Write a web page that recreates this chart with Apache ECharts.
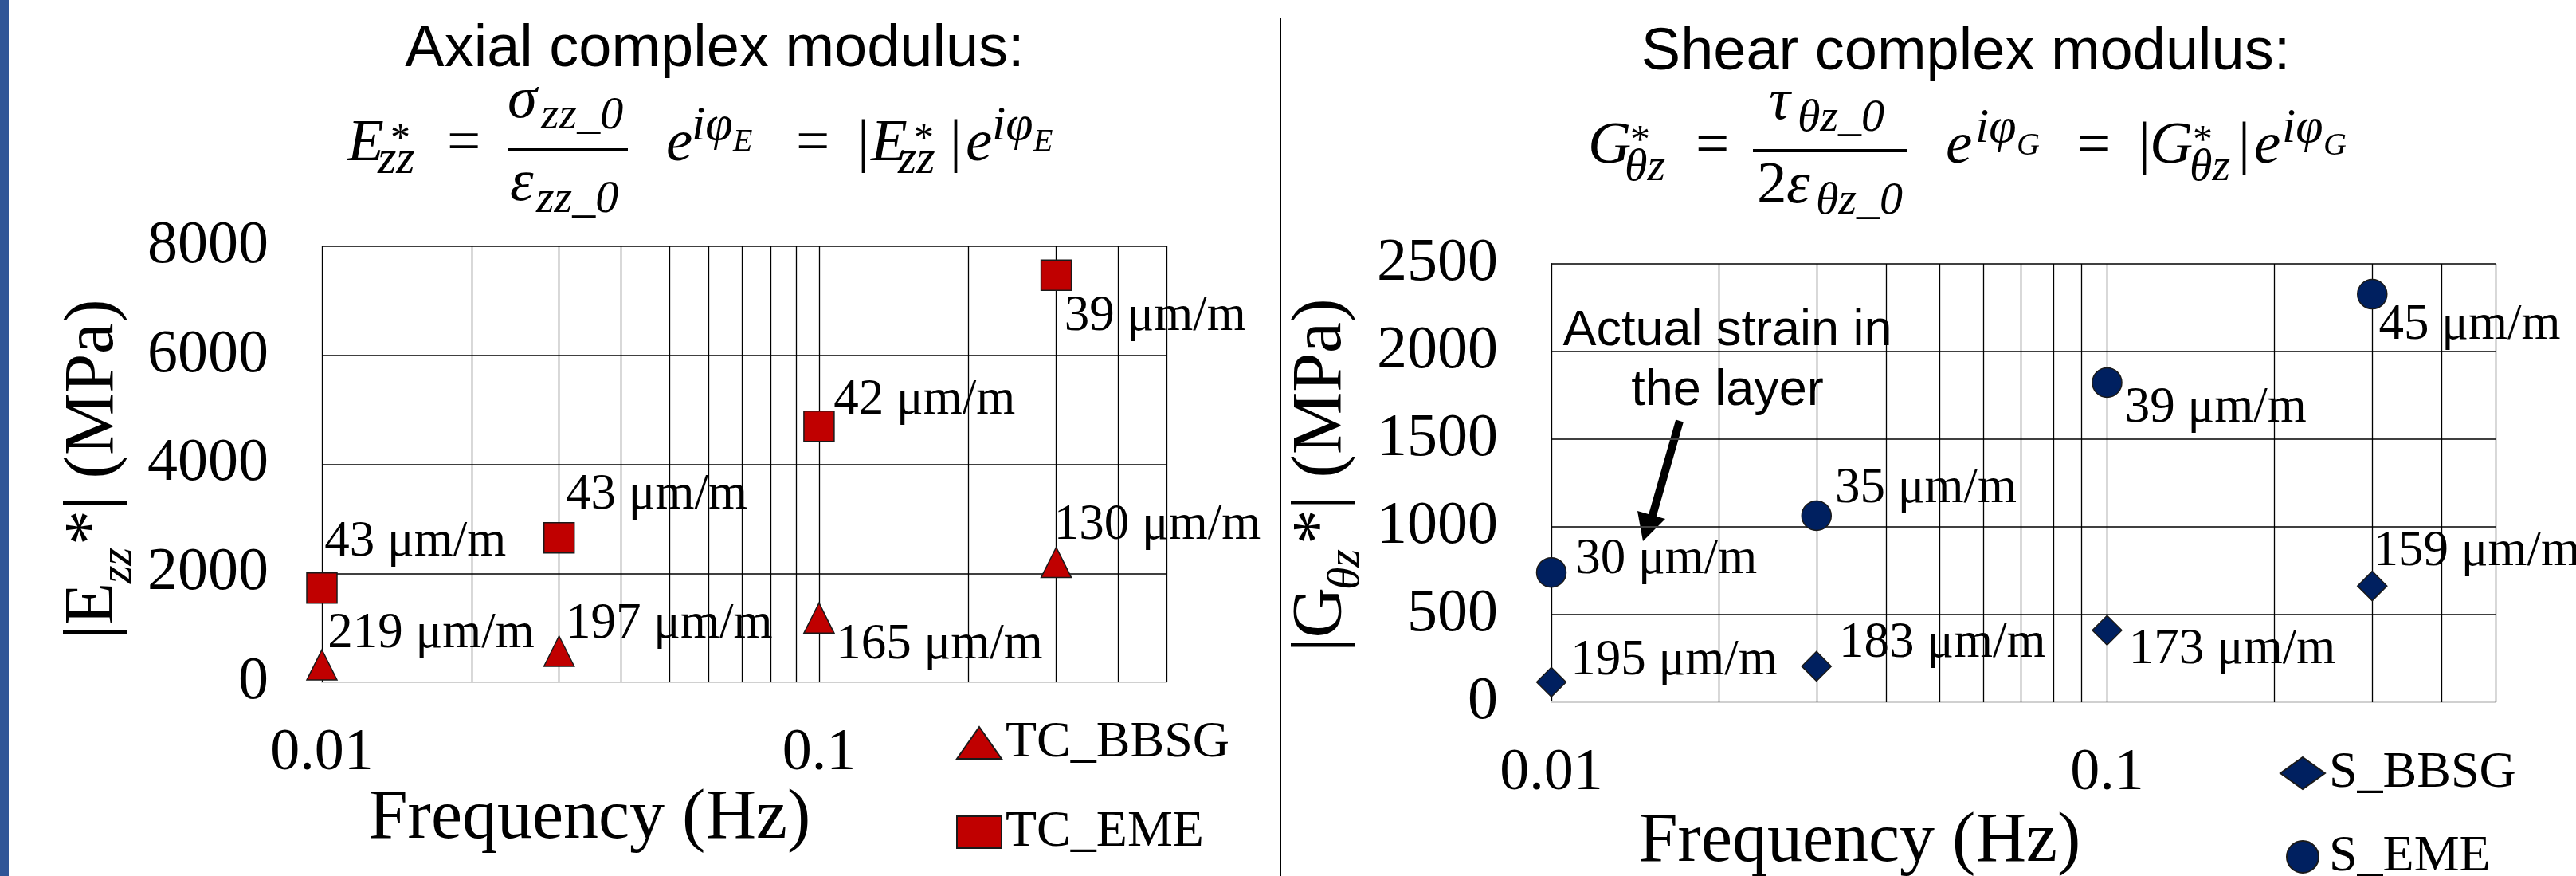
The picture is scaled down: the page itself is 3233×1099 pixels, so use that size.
<!DOCTYPE html>
<html>
<head>
<meta charset="utf-8">
<script src="https://cdn.jsdelivr.net/npm/echarts@6/dist/echarts.min.js"></script>
<style>
  html, body { margin: 0; padding: 0; background: #fff; }
  #chart { width: 3233px; height: 1099px; }
</style>
</head>
<body>
<div id="chart"></div>
<script>
const SERIF = 'Liberation Serif'
const SANS = 'Liberation Sans'
const RED = '#C00000'
const NAVY = '#002060'

// loading frequencies (Hz), shared by both panels
const freq = [0.01, 0.03, 0.1, 0.3]

// axial complex modulus |E*zz| (MPa) and the strain amplitude written next to each point
const tcBbsg = [320, 570, 1180, 2200]
const tcEme = [1730, 2650, 4700, 7470]
const tcBbsgStrain = [219, 197, 165, 130]
const tcEmeStrain = [43, 43, 42, 39]

// shear complex modulus |G*θz| (MPa)
const sBbsg = [115, 205, 410, 663]
const sEme = [740, 1064, 1823, 2327]
const sBbsgStrain = [195, 183, 173, 159]
const sEmeStrain = [30, 35, 39, 45]

// axes
const xTickLabels = ['0.01', '0.1']
const xGridValues = [0.02, 0.03, 0.04, 0.05, 0.06, 0.07, 0.08, 0.09, 0.1, 0.2, 0.3, 0.4, 0.5]
const axialTicks = [0, 2000, 4000, 6000, 8000]
const shearTicks = [0, 500, 1000, 1500, 2000, 2500]

// where each strain label sits relative to its marker (px)
const labelOffsets = {
  TC_BBSG: [[8, -38], [9, -33], [22, 35], [-2, -45]],
  TC_EME: [[4, -57], [9, -53], [19, -31], [11, 53]],
  S_BBSG: [[25, -25], [29, -28], [28, 25], [2, -42]],
  S_EME: [[31, -15], [24, -33], [23, 33], [9, 40]]
}

// formula pieces: [text, x, baseline, size, italic]
const axialFormula = [
  ['E', 436, 207, 75, 1],
  ['*', 490, 193, 50, 0],
  ['zz', 474, 222, 60, 1],
  ['=', 561, 207, 75, 0],
  ['σ', 637, 153, 75, 1],
  ['zz_0', 679, 165, 58, 1],
  ['ε', 640, 257, 75, 1],
  ['zz_0', 673, 270, 58, 1],
  ['e', 836, 207, 75, 1],
  ['iφ', 868, 180, 62, 1],
  ['E', 920, 192, 40, 1],
  ['=', 999, 207, 75, 0],
  ['|', 1076, 207, 75, 0],
  ['E', 1093, 207, 75, 1],
  ['*', 1147, 193, 50, 0],
  ['zz', 1127, 222, 60, 1],
  ['|', 1192, 207, 75, 0],
  ['e', 1212, 207, 75, 1],
  ['iφ', 1245, 180, 62, 1],
  ['E', 1297, 192, 40, 1]
]
const shearFormula = [
  ['G', 1993, 210, 75, 1],
  ['*', 2046, 195, 50, 0],
  ['θz', 2039, 230, 58, 1],
  ['=', 2128, 210, 75, 0],
  ['τ', 2220, 155, 75, 1],
  ['θz_0', 2256, 168, 58, 1],
  ['2', 2205, 260, 75, 0],
  ['ε', 2242, 260, 75, 1],
  ['θz_0', 2279, 272, 58, 1],
  ['e', 2442, 210, 75, 1],
  ['iφ', 2479, 183, 62, 1],
  ['G', 2531, 197, 40, 1],
  ['=', 2607, 210, 75, 0],
  ['|', 2684, 210, 75, 0],
  ['G', 2698, 210, 75, 1],
  ['*', 2752, 195, 50, 0],
  ['θz', 2748, 230, 58, 1],
  ['|', 2809, 210, 75, 0],
  ['e', 2829, 210, 75, 1],
  ['iφ', 2864, 183, 62, 1],
  ['G', 2916, 197, 40, 1]
]
const fractionBars = [[637, 788, 188], [2200, 2393, 189]]

// rotated y titles, local coords along the baseline
const axialYTitle = [['|E', 0, 0, 88, 0], ['zz', 70, 20, 58, 1], ['*| (MPa)', 118, 0, 88, 0]]
const shearYTitle = [['|G', 0, 0, 88, 0], ['θz', 78, 20, 58, 1], ['*| (MPa)', 135, 0, 88, 0]]

const textPiece = ([text, x, base, size, italic], family = SERIF, align = 'left') => ({
  type: 'text',
  x,
  y: base - 0.34 * size,
  silent: true,
  style: {
    text,
    fontFamily: family,
    fontSize: size,
    fontStyle: italic ? 'italic' : 'normal',
    fill: '#000',
    align,
    textAlign: align,
    verticalAlign: 'middle',
    textVerticalAlign: 'middle'
  }
})

const gridMarkLine = {
  silent: true,
  symbol: ['none', 'none'],
  z: 1,
  label: { show: false },
  emphasis: { disabled: true },
  lineStyle: { color: '#000', width: 1.3, type: 'solid' },
  data: xGridValues.map((v) => ({ xAxis: v }))
}

const buildSeries = (name, axisIndex, values, strains, symbol, size, color, withGrid) => ({
  name,
  type: 'scatter',
  xAxisIndex: axisIndex,
  yAxisIndex: axisIndex,
  symbol,
  symbolSize: size,
  clip: false,
  z: 3,
  itemStyle: { color, borderColor: '#1a1a1a', borderWidth: 1.5, opacity: 1 },
  emphasis: { disabled: true },
  label: {
    show: true,
    formatter: (p) => `${p.value[2]} μm/m`,
    fontFamily: SERIF,
    fontSize: 63,
    color: '#000',
    align: 'left',
    verticalAlign: 'middle'
  },
  data: freq.map((f, i) => ({
    value: [f, values[i], strains[i]],
    label: { position: [size / 2 + labelOffsets[name][i][0], size / 2 + labelOffsets[name][i][1]] }
  })),
  markLine: withGrid ? gridMarkLine : undefined
})

const xAxisFor = (gridIndex, nameGap, shift) => ({
  type: 'log',
  logBase: 10,
  gridIndex,
  min: 0.01,
  max: 0.5,
  name: 'Frequency (Hz)',
  nameLocation: 'middle',
  nameGap,
  nameTextStyle: { fontFamily: SERIF, fontSize: 88, color: '#000', padding: [0, shift, 0, 0] },
  axisLine: { show: true, onZero: false, lineStyle: { color: '#d0d0d0', width: 2 } },
  axisTick: { show: false },
  splitLine: { show: false },
  axisLabel: {
    margin: 53,
    fontFamily: SERIF,
    fontSize: 74,
    color: '#000',
    formatter: (v) => xTickLabels.find((l) => Math.abs(v / Number(l) - 1) < 1e-6) || ''
  }
})

const yAxisFor = (gridIndex, ticks) => ({
  type: 'value',
  gridIndex,
  min: ticks[0],
  max: ticks[ticks.length - 1],
  interval: ticks[1] - ticks[0],
  axisLine: { show: true, onZero: false, lineStyle: { color: '#000', width: 1.3 } },
  axisTick: { show: false },
  splitLine: { show: true, showMinLine: false, lineStyle: { color: '#404040', width: 2 } },
  axisLabel: { margin: 67, fontFamily: SERIF, fontSize: 76, color: '#000', formatter: (v) => String(v) }
})

const legendFor = (data, left, top, itemGap) => ({
  data,
  orient: 'vertical',
  left,
  top,
  height: 260,
  itemGap,
  itemWidth: 56,
  itemHeight: 40,
  selectedMode: false,
  textStyle: { fontFamily: SERIF, fontSize: 64, color: '#000' }
})

const graphics = [
  { type: 'rect', shape: { x: 0, y: 0, width: 11, height: 1099 }, style: { fill: '#2F5597' }, silent: true },
  { type: 'line', shape: { x1: 1607, y1: 22, x2: 1607, y2: 1099 }, style: { stroke: '#000', lineWidth: 2 }, silent: true },
  textPiece(['Axial complex modulus:', 897, 88, 74, 0], SANS, 'center'),
  textPiece(['Shear complex modulus:', 2467, 92, 74, 0], SANS, 'center'),
  ...axialFormula.map((p) => textPiece(p)),
  ...shearFormula.map((p) => textPiece(p)),
  ...fractionBars.map(([x1, x2, y]) => ({
    type: 'line', shape: { x1, y1: y, x2, y2: y }, style: { stroke: '#000', lineWidth: 4 }, silent: true
  })),
  { type: 'group', x: 148, y: 802, rotation: Math.PI / 2, children: axialYTitle.map((p) => textPiece(p)) },
  { type: 'group', x: 1689, y: 818, rotation: Math.PI / 2, children: shearYTitle.map((p) => textPiece(p)) },
  textPiece(['Actual strain in', 2168, 437, 63, 0], SANS, 'center'),
  textPiece(['the layer', 2168, 512, 63, 0], SANS, 'center'),
  { type: 'polyline', shape: { points: [[2108, 528], [2073, 650]] }, style: { stroke: '#000', lineWidth: 10, fill: null }, silent: true },
  { type: 'polygon', shape: { points: [[2055, 641], [2090, 651], [2062, 679]] }, style: { fill: '#000' }, silent: true }
]

const chart = echarts.init(document.getElementById('chart'))
chart.setOption({
  animation: false,
  backgroundColor: '#fff',
  tooltip: { show: false },
  grid: [
    { left: 404, top: 309, width: 1060, height: 547, outerBoundsMode: 'none' },
    { left: 1947, top: 331, width: 1185, height: 550, outerBoundsMode: 'none' }
  ],
  xAxis: [xAxisFor(0, 99, 388), xAxisFor(1, 97, 411)],
  yAxis: [yAxisFor(0, axialTicks), yAxisFor(1, shearTicks)],
  legend: [
    legendFor(['TC_BBSG', 'TC_EME'], 1195, 895, 48),
    legendFor(['S_BBSG', 'S_EME'], 2856, 933, 41)
  ],
  series: [
    buildSeries('TC_BBSG', 0, tcBbsg, tcBbsgStrain, 'triangle', 38, RED, true),
    buildSeries('TC_EME', 0, tcEme, tcEmeStrain, 'rect', 38, RED, false),
    buildSeries('S_BBSG', 1, sBbsg, sBbsgStrain, 'diamond', 37, NAVY, true),
    buildSeries('S_EME', 1, sEme, sEmeStrain, 'circle', 37, NAVY, false)
  ],
  graphic: graphics
})
</script>
</body>
</html>
